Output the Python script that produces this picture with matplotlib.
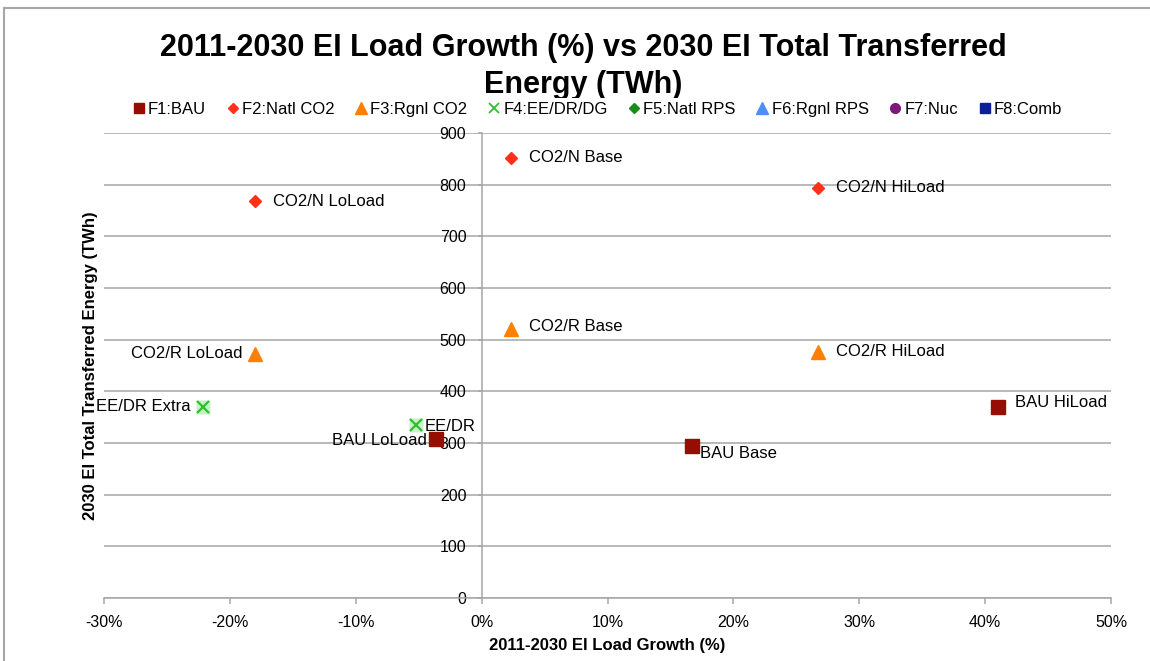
import matplotlib
matplotlib.use('Agg')
import matplotlib.pyplot as plt
from matplotlib.lines import Line2D
from matplotlib.ticker import FuncFormatter, MultipleLocator

plt.rcParams['font.family'] = ['Liberation Sans', 'DejaVu Sans']

# 2011-2030 EI load growth (%) and 2030 EI total transferred energy (TWh)
bau_growth = [-3.6, 16.7, 41.0]
bau_energy = [307, 294, 370]
bau_labels = ['BAU LoLoad', 'BAU Base', 'BAU HiLoad']

co2n_growth = [-18.0, 2.3, 26.7]
co2n_energy = [768, 852, 794]
co2n_labels = ['CO2/N LoLoad', 'CO2/N Base', 'CO2/N HiLoad']

co2r_growth = [-18.0, 2.3, 26.7]
co2r_energy = [472, 521, 477]
co2r_labels = ['CO2/R LoLoad', 'CO2/R Base', 'CO2/R HiLoad']

ee_growth = [-22.1, -5.2]
ee_energy = [370, 335]
ee_labels = ['EE/DR Extra', 'EE/DR']

legend_names = ['F1:BAU', 'F2:Natl CO2', 'F3:Rgnl CO2', 'F4:EE/DR/DG',
                'F5:Natl RPS', 'F6:Rgnl RPS', 'F7:Nuc', 'F8:Comb']

# label offsets in pixels (dx, dy, ha)
label_pos = {
    'BAU LoLoad': (-9, -1, 'right'), 'BAU Base': (8, -7, 'left'), 'BAU HiLoad': (17, 4, 'left'),
    'CO2/N LoLoad': (18, 0, 'left'), 'CO2/N Base': (18, 0, 'left'), 'CO2/N HiLoad': (18, 0, 'left'),
    'CO2/R LoLoad': (-13, 1, 'right'), 'CO2/R Base': (18, 2, 'left'), 'CO2/R HiLoad': (18, 0, 'left'),
    'EE/DR Extra': (-13, 0, 'right'), 'EE/DR': (8, -2, 'left'),
}

W, H = 1150, 661
fig = plt.figure(figsize=(W / 100, H / 100), dpi=100)
ax = fig.add_axes([104 / W, 1 - 598 / H, (1111 - 104) / W, (598 - 133) / H])

grey = '#a6a6a6'

ax.plot(ee_growth, ee_energy, ls='none', marker='s', ms=10, mfc='#c6f2c6', mec='none', zorder=3)
ax.plot(ee_growth, ee_energy, ls='none', marker='x', ms=8, mew=1.6, color='#2fbf2f', zorder=4)
ax.plot(co2n_growth, co2n_energy, ls='none', marker='D', ms=6.6, color='#ff3219', zorder=4)
ax.plot(co2r_growth, co2r_energy, ls='none', marker='^', ms=10, color='#ff8000', zorder=4)
ax.plot(bau_growth, bau_energy, ls='none', marker='s', ms=10, color='#980d03', zorder=4)

for xs, ys, labs in [(bau_growth, bau_energy, bau_labels), (co2n_growth, co2n_energy, co2n_labels),
                     (co2r_growth, co2r_energy, co2r_labels), (ee_growth, ee_energy, ee_labels)]:
    for x, y, lab in zip(xs, ys, labs):
        dx, dy, ha = label_pos[lab]
        ax.annotate(lab, (x, y), xytext=(dx, dy), textcoords='offset pixels',
                    ha=ha, va='center', fontsize=12, zorder=5)

ax.set_xlim(-30, 50)
ax.set_ylim(0, 900)
ax.xaxis.set_major_locator(MultipleLocator(10))
ax.yaxis.set_major_locator(MultipleLocator(100))
ax.xaxis.set_major_formatter(FuncFormatter(lambda v, p: f'{v:.0f}%'))
ax.grid(axis='y', color=grey, lw=1.1)
ax.set_axisbelow(True)

for s in ['top', 'right']:
    ax.spines[s].set_visible(False)
ax.spines['left'].set_position(('data', 0))
ax.spines['left'].set_color(grey)
ax.spines['bottom'].set_color(grey)
ax.spines['left'].set_linewidth(1.1)
ax.spines['bottom'].set_linewidth(1.1)
ax.tick_params(axis='x', length=4, width=1.1, color=grey, labelsize=11.5, pad=8)
ax.tick_params(axis='y', length=3, width=1.1, color=grey, labelsize=11.5, pad=8)

ax.set_xlabel('2011-2030 EI Load Growth (%)', fontsize=12, fontweight='bold')
ax.xaxis.set_label_coords(0.5, -0.087)
ax.set_ylabel('2030 EI Total Transferred Energy (TWh)', fontsize=12, fontweight='bold')
ax.yaxis.set_label_coords(-0.006, 0.5)

fig.text(583 / W, 1 - 33 / H, '2011-2030 EI Load Growth (%) vs 2030 EI Total Transferred\nEnergy (TWh)',
         ha='center', va='top', fontsize=22, fontweight='bold', linespacing=1.3)

handles = [
    Line2D([], [], ls='none', marker='s', ms=7, color='#980d03'),
    Line2D([], [], ls='none', marker='D', ms=5, color='#ff3219'),
    Line2D([], [], ls='none', marker='^', ms=8, color='#ff8000'),
    Line2D([], [], ls='none', marker='x', ms=7, mew=1.3, color='#2fbf2f'),
    Line2D([], [], ls='none', marker='D', ms=5, color='#1a8c1a'),
    Line2D([], [], ls='none', marker='^', ms=8, color='#4d8ff5'),
    Line2D([], [], ls='none', marker='o', ms=7, color='#7b1a7b'),
    Line2D([], [], ls='none', marker='s', ms=7, color='#0a1f99'),
]
leg = fig.legend(handles, legend_names, ncol=8, loc='upper center', bbox_to_anchor=(598 / W, 1 - 98 / H),
                 fontsize=12, frameon=True, handlelength=0.6, handletextpad=0.25, columnspacing=1.3,
                 borderpad=0.25, borderaxespad=0)
leg.get_frame().set_facecolor('white')
leg.get_frame().set_edgecolor('none')
leg.get_frame().set_alpha(1)
leg.set_zorder(10)

# outer border (top and left only visible)
fig.add_artist(Line2D([4 / W, 4 / W], [0, 1 - 8 / H], color=grey, lw=1.5))
fig.add_artist(Line2D([4 / W, 1], [1 - 8 / H, 1 - 8 / H], color=grey, lw=1.5))

fig.savefig('out.png', dpi=100)
